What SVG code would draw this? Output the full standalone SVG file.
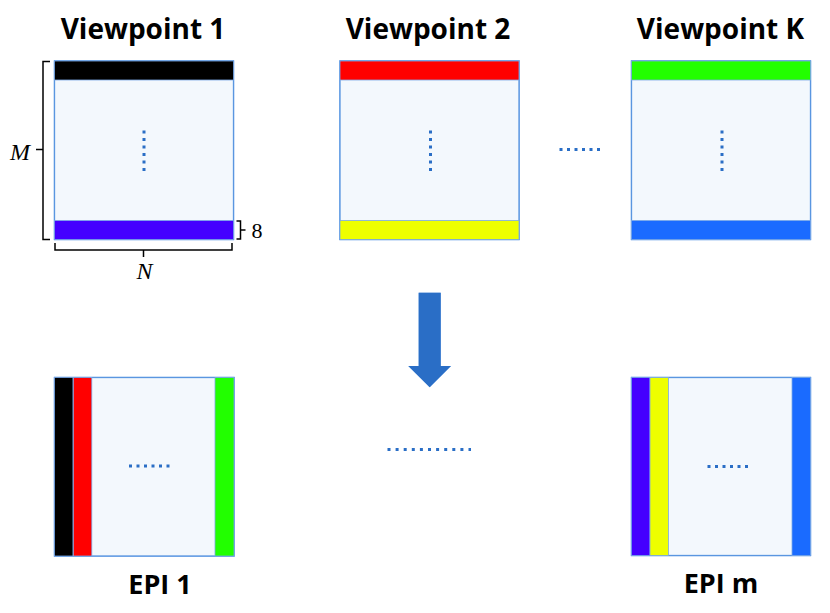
<svg xmlns="http://www.w3.org/2000/svg" width="830" height="613" viewBox="0 0 830 613">
<defs>
<filter id="glow" x="-10%" y="-10%" width="120%" height="120%">
<feGaussianBlur in="SourceAlpha" stdDeviation="2"/>
<feOffset dy="1.5"/>
<feComponentTransfer><feFuncA type="linear" slope="0.35"/></feComponentTransfer>
<feFlood flood-color="#5b9be8"/>
<feComposite operator="in" in2="SourceGraphic"/>
</filter>
<style>
.title{font-family:"Open Sans","Liberation Sans",sans-serif;font-weight:bold;font-size:28px;fill:#000;text-anchor:middle}
.epi{font-family:"Open Sans","Liberation Sans",sans-serif;font-weight:bold;font-size:27px;fill:#000;text-anchor:middle}
.math{font-family:"Liberation Serif",serif;font-style:italic;font-size:24px;fill:#000;text-anchor:middle}
.num{font-family:"Liberation Serif",serif;font-size:22px;fill:#000;text-anchor:middle}
.box{fill:#f3f8fd;stroke:#5a96e0;stroke-width:1.3}
.bar{stroke:#7aa8e6;stroke-width:0.8}
.dots{stroke:#2a6ec6;stroke-width:3;fill:none}
.br{stroke:#000;stroke-width:1.5;fill:none}
</style>
</defs>

<g id="title-v1"><text class="title" x="143" y="39">Viewpoint 1</text></g>
<g id="title-v2"><text class="title" x="428" y="39">Viewpoint 2</text></g>
<g id="title-vk"><text class="title" x="720.5" y="39">Viewpoint K</text></g>

<g id="viewpoint1">
<rect x="54.5" y="61" width="179" height="178.5" class="box" filter="url(#glow)"/>
<rect x="54.5" y="61" width="179" height="178.5" class="box"/>
<rect x="54.5" y="61" width="179" height="19" fill="#000000" class="bar"/>
<rect x="54.5" y="220.5" width="179" height="19" fill="#4400ff" class="bar"/>
<line x1="144" y1="130.5" x2="144" y2="171" class="dots" stroke-dasharray="3 4.5"/>
</g>

<g id="viewpoint2">
<rect x="340" y="61" width="179" height="178.5" class="box" filter="url(#glow)"/>
<rect x="340" y="61" width="179" height="178.5" class="box"/>
<rect x="340" y="61" width="179" height="19" fill="#ff0000" class="bar"/>
<rect x="340" y="220.5" width="179" height="19" fill="#eeff00" class="bar"/>
<line x1="430.5" y1="130.5" x2="430.5" y2="171" class="dots" stroke-dasharray="3 4.5"/>
</g>

<g id="viewpointK">
<rect x="631.5" y="61" width="179" height="178.5" class="box" filter="url(#glow)"/>
<rect x="631.5" y="61" width="179" height="178.5" class="box"/>
<rect x="631.5" y="61" width="179" height="19" fill="#22ff00" class="bar"/>
<rect x="631.5" y="220.5" width="179" height="19" fill="#1a6bff" class="bar"/>
<line x1="722" y1="130.5" x2="722" y2="171" class="dots" stroke-dasharray="3 4.5"/>
</g>

<g id="dots-views">
<line x1="559.5" y1="149.5" x2="600" y2="149.5" class="dots" stroke-dasharray="3 4.5"/>
</g>

<g id="dimensions">
<path class="br" d="M50,61.5 H43 V239.5 H50 M43,149.5 H36"/>
<text class="math" x="20" y="160">M</text>
<path class="br" d="M55,243 V250 H232 V243 M143.5,250 V257"/>
<text class="math" x="144.5" y="278.5">N</text>
<path class="br" d="M236.5,221 H240.5 V239 H236.5 M240.5,230 H245.5"/>
<text class="num" x="257" y="238">8</text>
</g>

<g id="connectors">
<polygon points="418.7,292.7 440.7,292.7 440.7,366 451,366 429.7,387.3 408.3,366 418.7,366" fill="#2a6ec6" filter="url(#glow)"/>
<polygon points="418.7,292.7 440.7,292.7 440.7,366 451,366 429.7,387.3 408.3,366 418.7,366" fill="#2a6ec6"/>
</g>

<g id="dots-epi">
<line x1="387.5" y1="449.5" x2="471" y2="449.5" class="dots" stroke-dasharray="3 5.1"/>
</g>

<g id="epi1">
<rect x="54.5" y="377.5" width="179.5" height="178.5" class="box" filter="url(#glow)"/>
<rect x="54.5" y="377.5" width="179.5" height="178.5" class="box"/>
<rect x="54.5" y="377.5" width="18.5" height="178.5" fill="#000000" class="bar"/>
<rect x="73.3" y="377.5" width="18.5" height="178.5" fill="#ff0000" class="bar"/>
<rect x="215" y="377.5" width="19" height="178.5" fill="#22ff00" class="bar"/>
<line x1="129" y1="466" x2="170" y2="466" class="dots" stroke-dasharray="3 4.5"/>
<text class="epi" x="160" y="594">EPI 1</text>
</g>

<g id="epim">
<rect x="631.5" y="377.5" width="179" height="178" class="box" filter="url(#glow)"/>
<rect x="631.5" y="377.5" width="179" height="178" class="box"/>
<rect x="631.5" y="377.5" width="18.5" height="178" fill="#4400ff" class="bar"/>
<rect x="650" y="377.5" width="18.5" height="178" fill="#eeff00" class="bar"/>
<rect x="792" y="377.5" width="18.5" height="178" fill="#1a6bff" class="bar"/>
<line x1="707.5" y1="466.5" x2="748" y2="466.5" class="dots" stroke-dasharray="3 4.5"/>
<text class="epi" x="721" y="593">EPI m</text>
</g>
</svg>
